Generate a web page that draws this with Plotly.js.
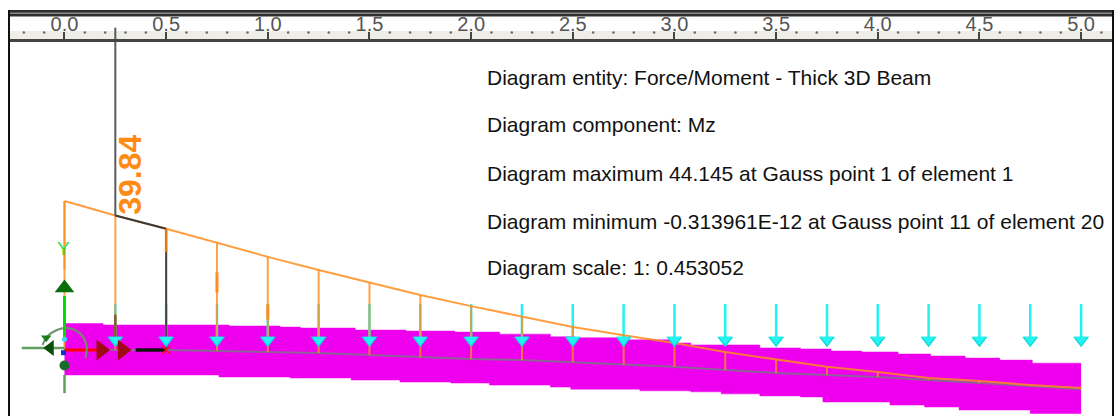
<!DOCTYPE html>
<html>
<head>
<meta charset="utf-8">
<script src="https://cdn.plot.ly/plotly-3.0.1.min.js"></script>
<style>html,body{margin:0;padding:0;background:#fff}#chart{width:1115px;height:416px}</style>
</head>
<body>
<div id="chart"></div>
<script>
const rulerTickVals = [0, 0.5, 1, 1.5, 2, 2.5, 3, 3.5, 4, 4.5, 5];
const rulerTickText = ['0.0','0.5','1.0','1.5','2.0','2.5','3.0','3.5','4.0','4.5','5.0'];
const rulerDots = [-0.2,-0.1,0.1,0.2,0.3,0.4,0.6,0.7,0.8,0.9,1.1,1.2,1.3,1.4,1.6,1.7,1.8,1.9,2.1,2.2,2.3,2.4,2.6,2.7,2.8,2.9,3.1,3.2,3.3,3.4,3.6,3.7,3.8,3.9,4.1,4.2,4.3,4.4,4.6,4.7,4.8,4.9,5.1];
const stations = [0,0.25,0.5,0.75,1,1.25,1.5,1.75,2,2.25,2.5,2.75,3,3.25,3.5,3.75,4,4.25,4.5,4.75,5];
const momentCurve = [44.145,39.84,35.9,31.7,27.6,23.7,19.9,16.3,13.0,9.8,6.8,4.4,2.1,-0.6,-2.7,-5.0,-6.5,-8.3,-9.2,-10.4,-11.3];
const beamAxis = [0,0,0,-0.3,-0.6,-0.9,-1.5,-2.2,-2.7,-3.0,-3.6,-4.4,-5.0,-5.9,-6.8,-7.4,-8.0,-8.9,-9.8,-10.7,-11.6];
const beamTopX = [0,0.19,0.81,1.06,1.16,1.43,1.68,1.92,2.14,2.39,2.51,2.73,2.98,3.08,3.42,3.62,3.77,3.92,4.10,4.26,4.43,4.60,4.76,5.0];
const beamTopY = [7.85,7.4,7.1,6.8,6.5,5.9,5.6,5.3,4.7,3.9,3.6,3.0,2.1,1.5,0.6,0.3,-0.3,-0.6,-1.2,-1.8,-2.4,-3.0,-3.9,-3.9];
const beamBotX = [0,0.76,1.11,1.41,1.65,1.90,2.09,2.39,2.49,2.83,3.08,3.23,3.42,3.62,3.73,4.06,4.23,4.40,4.75,5.0];
const beamBotY = [-7.4,-8.0,-8.3,-8.9,-9.5,-9.8,-10.4,-11.0,-11.6,-12.1,-12.4,-13.0,-13.6,-13.9,-15.4,-16.3,-16.9,-17.8,-18.8,-18.8];
const loadTail = 13.6;
const loadHeadTip = 0.9;
const arrowStations = stations.slice(1);
const probeX = [0.25,0.25];
const probeY = [39.84,95.5];
const textLines = [
  'Diagram entity: Force/Moment - Thick 3D Beam',
  'Diagram component: Mz',
  'Diagram maximum 44.145 at Gauss point 1 of element 1',
  'Diagram minimum -0.313961E-12 at Gauss point 11 of element 20',
  'Diagram scale: 1: 0.453052'
];
const textLineY = [80.6,66.7,52.4,38.2,24.3];
const arcX = [-0.108,-0.079,0,0.069,0.108,0.103];
const arcY = [1.5,4.4,6.5,5.3,1.5,-2.4];

function segments(xs, y0, y1) {
  const x = [], y = [];
  xs.forEach((v, i) => { x.push(v, v, null); y.push(y0[i], y1[i], null); });
  return {x, y};
}
const verticals = segments(stations, momentCurve, beamAxis);
const cyan = segments(arrowStations, arrowStations.map(() => loadTail), arrowStations.map(() => loadHeadTip + 2.5));
const line = (x, y, color, width, extra) => Object.assign({type:'scatter', mode:'lines', x, y, line:{color, width}, hoverinfo:'skip', showlegend:false}, extra || {});
const marks = (x, y, symbol, size, color, extra) => ({type:'scatter', mode:'markers', x, y, marker:Object.assign({symbol, size, color, line:{width:0}}, extra || {}), hoverinfo:'skip', showlegend:false});

const data = [
  marks(rulerDots, rulerDots.map(() => 94.1), 'circle', 2.5, '#6a6a6a'),
  line(beamTopX, beamTopY, '#ee00ee', 0.5, {line:{color:'#ee00ee', width:0.5, shape:'hv'}}),
  line(beamBotX, beamBotY, '#ee00ee', 0.5, {line:{color:'#ee00ee', width:0.5, shape:'hv'}, fill:'tonexty', fillcolor:'#ee00ee'}),
  line(stations, beamAxis, '#8c6298', 2),
  line(cyan.x, cyan.y, '#22f2f2', 2.5),
  line(verticals.x, verticals.y, 'rgba(255,140,30,0.8)', 2),
  line(stations, momentCurve, 'rgba(255,140,30,0.85)', 2),
  line(probeX, probeY, '#5a5a5a', 2),
  line([0.25,0.5], [39.84,35.9], '#3a3a3a', 2),
  line([0.5,0.5], [30,0], '#444444', 2),
  line([0.5,0.5], [35.9,29], '#e07a10', 2.5),
  line([0.25,0.25], [10.5,3.5], '#8a5a2a', 2.5),
  line([0.75,0.75], [23,17], '#ff8c1e', 3),
  line([1,1], [13.5,9], '#ff8c1e', 3),
  marks(arrowStations, arrowStations.map(() => 2.9), 'triangle-down', 14, '#12d8d8'),
  marks(arrowStations, arrowStations.map(() => 3.1), 'triangle-down', 11, '#22f4f4'),
  line([0.35,0.5], [0,0], '#101010', 3.5),
  line([0,0.17], [0,0], '#ff0000', 3),
  marks([0.18,0.285], [0,0], 'triangle-right', 18, '#a00a14'),
  marks([0.5], [0], 'x-thin', 8, '#ff1010', {line:{width:1.5, color:'#ff1010'}}),
  line(arcX, arcY, '#6f8f6f', 2, {line:{color:'#6f8f6f', width:2, shape:'spline'}}),
  line([-0.21,0], [0.6,0.6], '#5fa05f', 2.5),
  line([0,0], [-7.4,-12.8], '#5fa05f', 2.5),
  line([0,0], [16,3], '#00e000', 3),
  marks([0], [18.4], 'triangle-up', 17, '#0a6e0a'),
  marks([-0.07], [0.6], 'triangle-left', 14, '#0a500a'),
  marks([-0.09], [3.6], 'triangle-down', 9, '#1a7a1a'),
  marks([0], [-4.6], 'circle', 10, '#1a6a2a'),
  marks([0], [3.2], 'circle', 5, '#30e0f0'),
  marks([-0.005], [-0.8], 'square', 5, '#1030d0'),
  line([0,0], [44.145,24], 'rgba(255,140,30,0.8)', 2)
];

const annotations = textLines.map((t, i) => ({
  x: 2.07, y: textLineY[i], xref:'x', yref:'y', text:t, showarrow:false, xanchor:'left', yanchor:'middle',
  font:{family:'"Liberation Sans", Arial, sans-serif', size:21, color:'#111'}
}));
annotations.push({x:0.322, y:51.9, xref:'x', yref:'y', text:'<b>39.84</b>', textangle:-90, showarrow:false,
  font:{family:'"Liberation Sans", Arial, sans-serif', size:32, color:'#ff8a14'}});
annotations.push({x:-0.005, y:30, xref:'x', yref:'y', text:'Y', showarrow:false,
  font:{family:'"Liberation Sans", Arial, sans-serif', size:19, color:'#30e040'}});

const layout = {
  width:1115, height:416,
  margin:{l:9.5, r:3, t:10, b:0, pad:0},
  paper_bgcolor:'#ffffff', plot_bgcolor:'#ffffff',
  showlegend:false,
  xaxis:{
    range:[-0.268,5.152], side:'top', anchor:'free', position:0.9249,
    tickmode:'array', tickvals:rulerTickVals, ticktext:rulerTickText,
    ticks:'outside', ticklen:7, tickwidth:2, tickcolor:'#444', ticklabelstandoff:-7,
    tickfont:{family:'"Liberation Sans", Arial, sans-serif', size:20, color:'#555'},
    showline:true, linecolor:'#444', linewidth:3, showgrid:false, zeroline:false, fixedrange:true
  },
  yaxis:{
    range:[-19.56,100.74], showticklabels:false, ticks:'', showgrid:false, zeroline:false,
    showline:true, mirror:true, linecolor:'#111', linewidth:2, fixedrange:true
  },
  annotations,
  shapes:[
    {type:'rect', xref:'paper', yref:'paper', x0:0, x1:1, y0:0.9261, y1:0.948, fillcolor:'#eeede6', line:{width:0}, layer:'below'},
    {type:'rect', xref:'paper', yref:'paper', x0:0, x1:1, y0:0.984, y1:1, fillcolor:'#2e2e2e', line:{width:0}, layer:'above'},
    {type:'rect', xref:'paper', yref:'paper', x0:0, x1:1, y0:0.990, y1:0.994, fillcolor:'#8a8a8a', line:{width:0}, layer:'above'}
  ]
};
Plotly.newPlot('chart', data, layout, {displayModeBar:false, staticPlot:true});
</script>
</body>
</html>
